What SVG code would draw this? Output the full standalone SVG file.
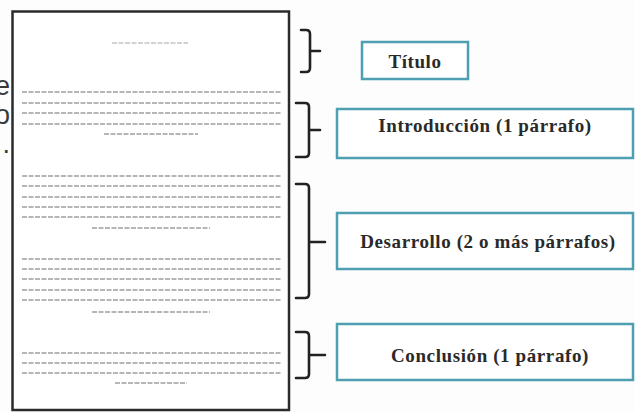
<svg xmlns="http://www.w3.org/2000/svg" width="635" height="412" viewBox="0 0 635 412">
<style>
.bg{fill:#fdfdfd}
.page{fill:#ffffff;stroke:#2b2b2b;stroke-width:2.5}
.ln{stroke:#6e6e6e;stroke-width:1.1;stroke-dasharray:5 1.5;fill:none}
.ttl{stroke:#a5a5a5;stroke-width:1;stroke-dasharray:5 1.5;fill:none}
.brace{fill:none;stroke:#222;stroke-width:2.6;stroke-linecap:round;stroke-linejoin:round}
.box{fill:#ffffff;stroke:#4d9fb1;stroke-width:2.5}
.lbl{font-family:"Liberation Serif","DejaVu Serif",serif;font-weight:bold;font-size:19px;fill:#2a2a2a;text-anchor:middle;letter-spacing:0.6px}
.side{font-family:"Liberation Sans","DejaVu Sans",sans-serif;font-size:27px;fill:#3a3a3a;text-anchor:end}
</style>
<rect class="bg" x="0" y="0" width="635" height="412"/>
<g id="side-text">
<text class="side" x="10" y="95">e</text>
<text class="side" x="10" y="124">o</text>
<text class="side" x="10" y="153">.</text>
</g>
<g id="page">
<rect class="page" x="12.5" y="11.5" width="276.5" height="398.5"/>
<line class="ttl" x1="112" y1="43" x2="188" y2="43"/>
<line class="ln" x1="22" y1="92" x2="282" y2="92"/>
<line class="ln" x1="22" y1="103" x2="282" y2="103"/>
<line class="ln" x1="22" y1="113" x2="282" y2="113"/>
<line class="ln" x1="22" y1="124" x2="282" y2="124"/>
<line class="ln" x1="104" y1="134" x2="198" y2="134"/>
<line class="ln" x1="22" y1="176" x2="282" y2="176"/>
<line class="ln" x1="22" y1="186" x2="282" y2="186"/>
<line class="ln" x1="22" y1="197" x2="282" y2="197"/>
<line class="ln" x1="22" y1="207" x2="282" y2="207"/>
<line class="ln" x1="22" y1="217" x2="282" y2="217"/>
<line class="ln" x1="92" y1="228" x2="210" y2="228"/>
<line class="ln" x1="22" y1="259" x2="282" y2="259"/>
<line class="ln" x1="22" y1="269" x2="282" y2="269"/>
<line class="ln" x1="22" y1="279" x2="282" y2="279"/>
<line class="ln" x1="22" y1="290" x2="282" y2="290"/>
<line class="ln" x1="22" y1="300" x2="282" y2="300"/>
<line class="ln" x1="92" y1="312" x2="210" y2="312"/>
<line class="ln" x1="22" y1="353" x2="282" y2="353"/>
<line class="ln" x1="22" y1="363" x2="282" y2="363"/>
<line class="ln" x1="22" y1="373" x2="282" y2="373"/>
<line class="ln" x1="115" y1="383" x2="187" y2="383"/>
</g>
<g id="connectors">
<path class="brace" d="M301 30 H306 Q310 30 310 34 V68 Q310 72 306 72 H301 M310 51 H320"/>
<path class="brace" d="M296 103 H305 Q309 103 309 107 V153 Q309 157 305 157 H296 M309 130 H320"/>
<path class="brace" d="M296 184 H305 Q309 184 309 188 V294 Q309 298 305 298 H296 M309 242 H325"/>
<path class="brace" d="M296 332 H305 Q309 332 309 336 V374 Q309 378 305 378 H296 M309 355 H325"/>
</g>
<g id="titulo">
<rect class="box" x="362" y="42" width="106" height="37"/>
<text class="lbl" x="415" y="68">Título</text>
</g>
<g id="introduccion">
<rect class="box" x="337" y="109" width="296" height="49"/>
<text class="lbl" x="485" y="132">Introducción (1 párrafo)</text>
</g>
<g id="desarrollo">
<rect class="box" x="337" y="213" width="296" height="56"/>
<text class="lbl" x="488" y="248">Desarrollo (2 o más párrafos)</text>
</g>
<g id="conclusion">
<rect class="box" x="337" y="324" width="296" height="56"/>
<text class="lbl" x="490" y="362">Conclusión (1 párrafo)</text>
</g>
</svg>
